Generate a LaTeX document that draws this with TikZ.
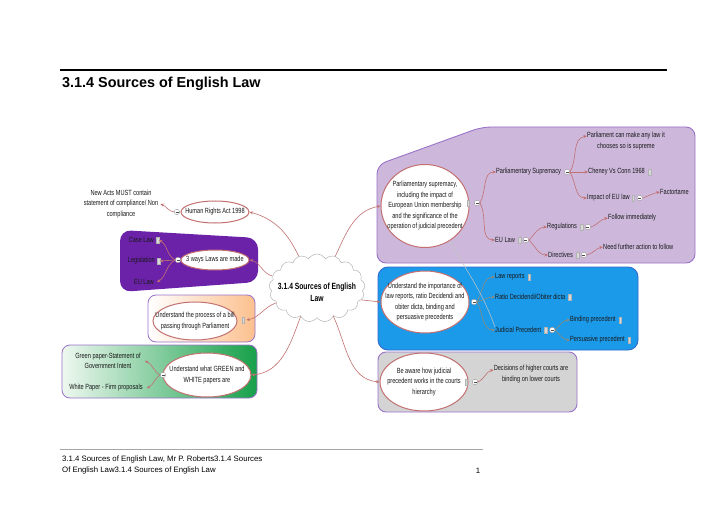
\documentclass[tikz,border=0pt]{standalone}
\usepackage{fontspec}
\setmainfont{Liberation Sans}
\newfontfamily\mapfont[FakeStretch=0.75]{Liberation Sans}
\usetikzlibrary{shapes.geometric,shapes.symbols,arrows.meta,positioning}
\definecolor{linkred}{HTML}{C27070}
\definecolor{bluelinkcol}{HTML}{8E8A7A}
\definecolor{lavender}{HTML}{CDB8DC}
\definecolor{lavborder}{HTML}{9A72C8}
\definecolor{deeppurple}{HTML}{6B22A8}
\definecolor{skyblue}{HTML}{1C9AEA}
\definecolor{blueborder}{HTML}{3468CC}
\definecolor{peach}{HTML}{FCC08E}
\definecolor{greendark}{HTML}{17A04A}
\definecolor{greenlight}{HTML}{EEF8F0}
\definecolor{boxgray}{HTML}{D4D4D4}
\tikzset{
  map/.style={font=\mapfont\fontsize{7.5}{10.5}\selectfont, text=black!90, align=center, inner sep=0pt},
  topic/.style={ellipse, draw=linkred, fill=white, line width=1pt, inner sep=0pt},
  link/.style={draw=linkred, line width=0.6pt, -{Stealth[length=3.5pt,width=3pt]}},
  bluelink/.style={link, draw=bluelinkcol},
  relation/.style={draw=gray!45, line width=0.5pt, {Stealth[length=3pt,width=2.5pt]}-},
  fold/.style={circle, draw=gray!80, fill=white, line width=0.4pt, minimum size=5.5pt, inner sep=0pt,
    path picture={\draw[black!70, line width=0.5pt] ([xshift=-1.5pt]path picture bounding box.center) -- ([xshift=1.5pt]path picture bounding box.center);}},
  note/.style={rectangle, draw=gray!60, fill=gray!30, minimum width=2.5pt, minimum height=5.5pt, inner sep=0pt},
}
\begin{document}
\begin{tikzpicture}[x=1pt,y=1pt]
\useasboundingbox (0,0) rectangle (728,515);
\draw[line width=2.8pt] (60,445) -- (667,445);
\node[anchor=base west, inner sep=0pt, font=\bfseries\fontsize{14.4}{17}\selectfont] (title) at (62,427) {3.1.4 Sources of English Law};
\draw[gray!70, line width=0.7pt] (60,66) -- (483,66);
\node[anchor=north west, align=left, inner sep=0pt, font=\fontsize{7.8}{10.5}\selectfont] (foot) at (62,59) {3.1.4 Sources of English Law, Mr P. Roberts3.1.4 Sources\\Of English Law3.1.4 Sources of English Law};
\node[anchor=base, inner sep=0pt, font=\fontsize{7.8}{9}\selectfont] (page) at (478,42) {1};

\fill[deeppurple, rounded corners=11pt] (120,285) -- (258,277) -- (258,233) -- (120,223) -- cycle;
\draw[lavborder, line width=0.8pt, left color=white, right color=peach, rounded corners=8pt] (148,173) rectangle (255,220);
\draw[lavborder, line width=0.8pt, left color=greenlight, right color=greendark, rounded corners=8pt] (62,117) rectangle (257,170);
\draw[lavborder, line width=0.9pt, fill=lavender, rounded corners=9pt] (377,350) -- (482,388) -- (695,388) -- (695,252) -- (377,252) -- cycle;
\draw[blueborder, line width=0.9pt, fill=skyblue, rounded corners=10pt] (378,165) rectangle (638,248);
\draw[lavborder, line width=0.9pt, fill=boxgray, rounded corners=8pt] (378,103) rectangle (577,163);

\node[cloud, cloud puffs=17, cloud puff arc=120, cloud ignores aspect, draw=gray!70, fill=white, minimum width=96pt, minimum height=68pt, inner sep=0pt,
  label={[map, text=black, font=\mapfont\bfseries\fontsize{9}{12}\selectfont, yshift=-4pt]center:{3.1.4 Sources of English\\Law}}] (root) at (317,227) {};

\node[topic, minimum width=68pt, minimum height=22pt, label={[map]center:Human Rights Act 1998}] (hra) at (215,303) {};
\node[fold] (hraF) at (177,303) {};
\node[map] (comp) at (121,311) {New Acts MUST contain\\statement of compliance/ Non\\compliance};
\node[topic, minimum width=68pt, minimum height=20pt, label={[map]center:3 ways Laws are made}] (ways) at (215,255) {};
\node[fold] (waysF) at (178,255) {};
\node[map, anchor=east] (caselaw) at (154,275) {Case Law};
\node[note, right=2pt of caselaw] (caselawN) {};
\node[map, anchor=east] (legis) at (155,254) {Legislation};
\node[note, right=2pt of legis] (legisN) {};
\node[map, anchor=east] (eulawL) at (154,233) {EU Law};
\node[topic, minimum width=84pt, minimum height=38pt, label={[map]center:{Understand the process of a bill\\passing through Parliament}}] (bill) at (195,194) {};
\node[note] (billN) at (243,195) {};
\node[topic, minimum width=88pt, minimum height=44pt, label={[map]center:{Understand what GREEN and\\WHITE papers are}}] (papers) at (207,140) {};
\node[fold] (papersF) at (163,140) {};
\node[map] (green) at (108,154) {Green paper-Statement of\\Government Intent};
\node[map] (white) at (106,127) {White Paper - Firm proposals};

\node[topic, minimum width=88pt, minimum height=83pt, label={[map]center:{Parliamentary supremacy,\\including the impact of\\European Union membership\\and the significance of the\\operation of judicial precedent}}] (parl) at (425,309) {};
\node[note] (parlN) at (468,312) {};
\node[fold] (parlF) at (477,312) {};
\node[map, anchor=west] (supremacy) at (496,343) {Parliamentary Supremacy};
\node[fold, right=3pt of supremacy] (supremacyF) {};
\node[map] (anylaw) at (626,374) {Parliament can make any law it\\chooses so is supreme};
\node[map, anchor=west] (cheney) at (588,343) {Cheney Vs Conn 1968};
\node[note, right=3pt of cheney] (cheneyN) {};
\node[map, anchor=west] (impact) at (587,317) {Impact of EU law};
\node[note, right=2pt of impact] (impactN) {};
\node[fold, right=2pt of impactN] (impactF) {};
\node[map, anchor=west] (factortame) at (660,323) {Factortame};
\node[map, anchor=west] (eulaw) at (495,275) {EU Law};
\node[note, right=3pt of eulaw] (eulawN) {};
\node[fold, right=2pt of eulawN] (eulawF) {};
\node[map, anchor=west] (regs) at (547,288) {Regulations};
\node[note, right=3pt of regs] (regsN) {};
\node[fold, right=2pt of regsN] (regsF) {};
\node[map, anchor=west] (follow) at (608,297) {Follow immediately};
\node[map, anchor=west] (directives) at (548,260) {Directives};
\node[note, right=3pt of directives] (directivesN) {};
\node[fold, right=2pt of directivesN] (directivesF) {};
\node[map, anchor=west] (further) at (603,268) {Need further action to follow};

\node[topic, minimum width=88pt, minimum height=62pt, label={[map]center:{Understand the importance of\\law reports, ratio Decidendi and\\obiter dicta, binding and\\persuasive precedents}}] (reports) at (425,213) {};
\node[fold] (reportsF) at (474,213) {};
\node[map, anchor=west] (lawrep) at (495,238) {Law reports};
\node[note, right=3pt of lawrep] (lawrepN) {};
\node[map, anchor=west] (ratio) at (495,218) {Ratio Decidendi/Obiter dicta};
\node[note, right=3pt of ratio] (ratioN) {};
\node[map, anchor=west] (judicial) at (495,185) {Judicial Precedent};
\node[note, right=3pt of judicial] (judicialN) {};
\node[fold, right=2pt of judicialN] (judicialF) {};
\node[map, anchor=west] (binding) at (570,195) {Binding precedent};
\node[note, right=3pt of binding] (bindingN) {};
\node[map, anchor=west] (persuasive) at (570,175) {Persuasive precedent};
\node[note, right=3pt of persuasive] (persuasiveN) {};

\node[topic, minimum width=88pt, minimum height=58pt, label={[map]center:{Be aware how judicial\\precedent works in the courts\\hierarchy}}] (courts) at (424,133) {};
\node[note] (courtsN) at (466,133) {};
\node[fold] (courtsF) at (475,133) {};
\node[map] (higher) at (531,141) {Decisions of higher courts are\\binding on lower courts};

\draw[link] (root.120) to[out=115,in=-15] (hra.east);
\draw[link] (root.165) to[out=165,in=-10] (ways.east);
\draw[link] (root.200) to[out=200,in=10] ([xshift=2pt]billN.east);
\draw[link] (root.240) to[out=250,in=5] (papers.east);
\draw[link] (root.60) to[out=65,in=190] (parl.west);
\draw[link] (root.-15) -- (reports.west);
\draw[link] (root.-60) to[out=-65,in=175] (courts.west);

\draw[link] (hraF.west) to[out=170,in=-20] ([xshift=2pt]comp.east);
\draw[link] (waysF.west) to[out=150,in=-30] (caselawN.east);
\draw[link] (waysF.west) -- (legisN.east);
\draw[link] (waysF.west) to[out=210,in=30] ([xshift=3pt]eulawL.east);
\draw[link] (papersF.west) to[out=150,in=-20] ([xshift=4pt]green.east);
\draw[link] (papersF.west) to[out=210,in=20] ([xshift=4pt]white.east);

\draw[link] (parlF.east) to[out=60,in=180] (supremacy.west);
\draw[link] (parlF.east) to[out=-60,in=180] (eulaw.west);
\draw[link] (supremacyF.east) to[out=60,in=190] ([yshift=5pt]anylaw.west);
\draw[link] (supremacyF.east) -- (cheney.west);
\draw[link] (supremacyF.east) to[out=-60,in=180] (impact.west);
\draw[link] (impactF.east) to[out=20,in=190] (factortame.west);
\draw[link] (eulawF.east) to[out=45,in=180] (regs.west);
\draw[link] (eulawF.east) to[out=-45,in=180] (directives.west);
\draw[link] (regsF.east) to[out=20,in=190] (follow.west);
\draw[link] (directivesF.east) to[out=15,in=190] (further.west);

\draw[bluelink] (reportsF.east) to[out=60,in=180] (lawrep.west);
\draw[bluelink] (reportsF.east) to[out=15,in=180] (ratio.west);
\draw[bluelink] (reportsF.east) to[out=-60,in=180] (judicial.west);
\draw[bluelink] (judicialF.east) to[out=45,in=180] (binding.west);
\draw[bluelink] (judicialF.east) to[out=-45,in=180] (persuasive.west);
\draw[relation] (parl.-55) to[out=-60,in=110] (judicial.north west);

\draw[link] (courtsF.east) to[out=25,in=190] ([yshift=4pt]higher.west);
\end{tikzpicture}
\end{document}
